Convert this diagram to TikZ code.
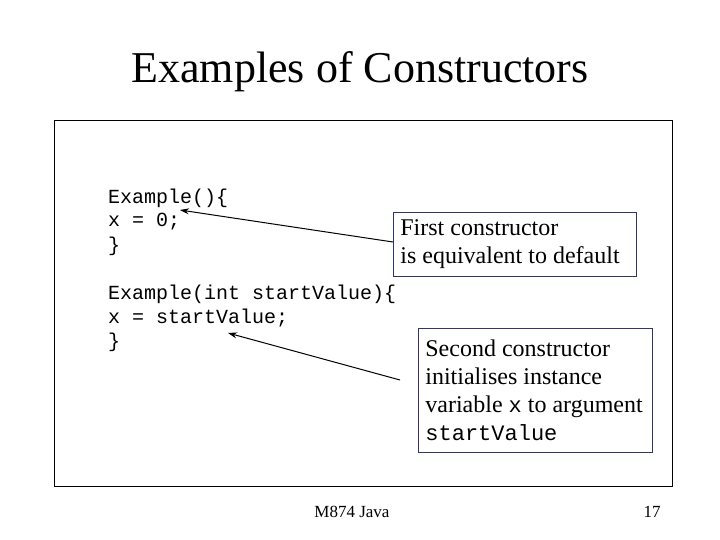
\documentclass[tikz,border=0pt]{standalone}
\usepackage{fontspec}
\setmainfont{Liberation Serif}
\setmonofont{Liberation Mono}
\usetikzlibrary{arrows.meta}
\newcommand{\notett}[1]{{\fontsize{22}{28}\selectfont\ttfamily #1}}
\begin{document}
\begin{tikzpicture}[x=1pt,y=-1pt,
  code/.style={anchor=west,font=\fontsize{20}{24}\selectfont\ttfamily,inner sep=0},
  note/.style={draw=black!60!blue!60!gray,line width=0.8pt,anchor=north west,align=flush left,inner xsep=7pt,inner ysep=4pt,font=\fontsize{24}{28}\selectfont},
  arr/.style={line width=1pt,-{Stealth[length=9pt,width=6pt]}}]
\useasboundingbox (0,0) rectangle (720,540);
\fill[white] (0,0) rectangle (720,540);
\draw[line width=0.8pt] (54,120) rectangle (672,486);
\node (title) at (360,72) {\fontsize{44}{48}\selectfont Examples of Constructors};
\node[code] (c1) at (108,198) {Example()\{};
\node[code] (c2) at (108,222) {x = 0;};
\node[code] (c3) at (108,246) {\}};
\node[code] (c4) at (108,294) {Example(int startValue)\{};
\node[code] (c5) at (108,318) {x = startValue;};
\node[code] (c6) at (108,342) {\}};
\node[note,text width=229,minimum height=64] (n1) at (393,212) {First constructor\\is equivalent to default};
\node[note,text width=220,minimum height=124] (n2) at (418,328) {Second constructor\\initialises instance\\\mbox{variable \notett{x} to argument}\\\notett{startValue}};
\coordinate (e1) at (393,242);
\coordinate (e2) at (400,380);
\draw[arr] (e1) -- (180,210);
\draw[arr] (e2) -- (228,333);
\node (f1) at (352,512) {\fontsize{17}{20}\selectfont M874 Java};
\node (f2) at (652,512) {\fontsize{17}{20}\selectfont 17};
\end{tikzpicture}
\end{document}
